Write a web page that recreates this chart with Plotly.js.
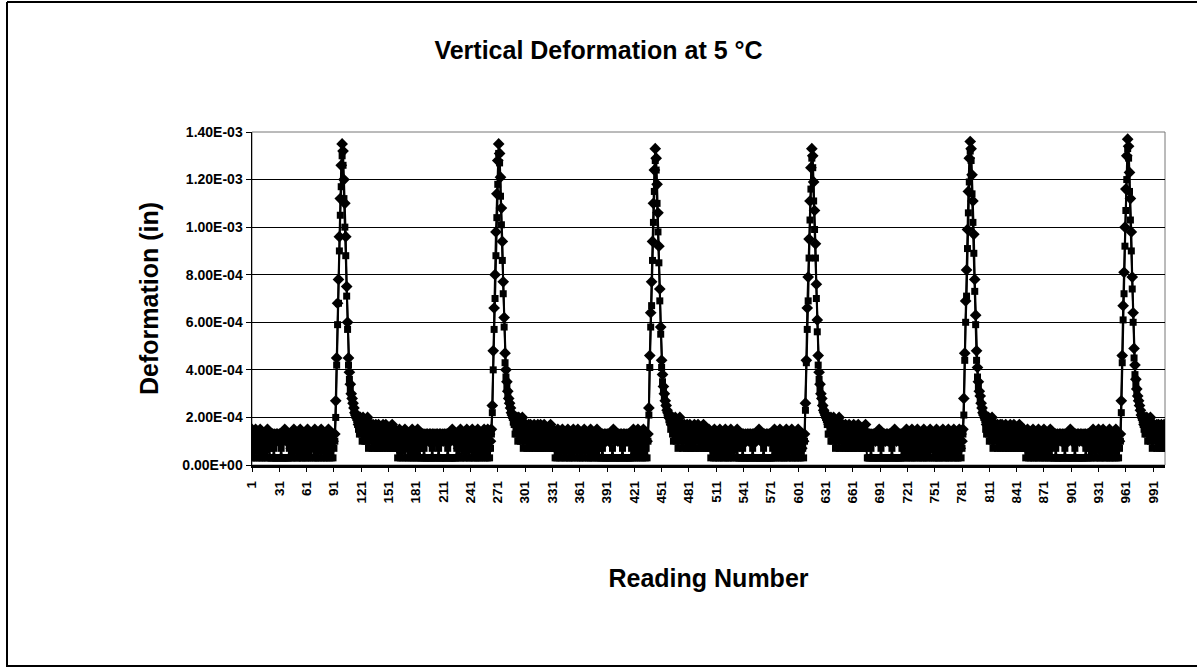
<!DOCTYPE html>
<html>
<head>
<meta charset="utf-8">
<script src="https://cdn.plot.ly/plotly-3.0.1.min.js"></script>
<style>
html,body{margin:0;padding:0;background:#fff;}
#chart{width:1197px;height:669px;}
</style>
</head>
<body>
<div id="chart"></div>
<script>
// Deformation readings, stored in units of 1e-5 in (converted to inches below).
const UNIT_IN = 1e-5;

// ---------- Series 1 (diamond markers) ----------
const preA = [
15,13,10,13,15,10,13,7,13,15,10,13,10,13,7,10,13,15,10,13,
13,10,13,13,10,13,10,13,13,10,13,13,10,13,10,13,15,13,10,13,13,
10,13,7,13,10,15,13,10,13,7,10,13,15,10,13,10,7,13,10,13,15,13,10,7,13,
10,13,10,15,13,7,10,13,10,13,15,10,13,7,13,10,13,10,15,13,10,7,13,10,13
];
const peaksA = [
[13,27,45,68,78,96,112,126,135, 132,120,110,96,75,60,45,39,34,30,28,26,24,22,21,20],
[15,25,48,66,80,98,114,128,135, 131,121,108,94,77,62,47,40,35,31,28,26,24,22,21,20],
[13,24,46,64,77,94,110,124,133, 129,118,106,92,74,58,44,38,33,30,27,25,23,22,20,20],
[13,26,44,66,79,95,111,125,133, 130,119,107,93,76,61,46,39,34,30,28,25,23,22,21,20],
[15,28,47,69,82,99,115,129,136, 133,122,111,97,78,63,48,41,35,31,29,26,24,22,21,20],
[13,27,46,67,81,100,116,130,137, 134,123,112,98,79,64,49,42,36,32,29,27,25,23,21,20]
];
const tailsA = [
[20,17,20,20,17,17,20,17,15,17,17,20,15,17,15,17,13,17,15,15,17,13,15,17,13,15,13,15,17],
[20,20,17,20,17,20,17,17,15,20,17,15,17,17,15,13,17,15,17,13,15,15,17,13,15,13,17,15,13],
[20,17,20,17,17,20,15,17,17,15,20,17,15,17,13,17,15,15,17,13,15,17,13,15,15,13,17,13,15],
[20,20,17,17,20,17,15,20,17,17,15,17,15,20,17,13,15,17,15,13,17,15,15,13,17,13,15,13,15],
[20,17,20,20,17,15,17,20,17,15,17,17,15,17,15,13,17,15,17,15,13,15,17,13,15,13,15,17,13],
[20,17,20,17,20,17,17,15,20,17,15,17,17,15,13,17,15,17,13,15,17,15,13,17,15]
];
const basesA = [
[15,13,17,13,15,13,10,15,13,17,13,10,15,13,13,
 10,13,15,10,13,7,13,10,15,13,10,13,13,7,10,13,15,10,13,10,7,13,15,10,13,
 13,10,13,13,10,13,10,13,13,10,13,13,10,13,13,10,13,10,13,13,10,13,13,10,13,10,13,13,10,13,13,10,13,10,13,15,13,10,13,13,
 10,13,7,13,15,10,13,10,13,7,10,15,13,10,13,10,13,15,7,13,10,13,10,15,13,
 10,13,7,13,10,15,13,10,13,15,10,13,10],
[17,13,15,13,17,15,13,10,13,15,13,17,13,10,15,
 13,10,13,7,15,13,10,13,10,15,13,7,13,10,13,15,10,13,7,10,13,15,13,10,13,
 10,15,13,10,7,13,13,10,15,13,10,13,7,13,10,15,13,10,13,10,7,13,15,13,10,
 13,13,10,13,10,13,13,10,13,13,10,13,10,13,13,15,13,10,13,13,10,13,10,13,13,10,13,13,10,13,10,13,13,10,13,
 10,13,15,7,13,10,13,15,10,13,7,13,10,15,13,10,13,10],
[15,17,13,13,15,10,13,17,13,15,13,10,13,15,13,
 10,13,7,13,15,10,13,10,13,7,15,13,10,13,10,13,15,7,13,10,13,10,15,13,10,13,7,13,10,15,
 13,10,13,13,10,13,13,10,13,10,13,13,10,13,13,10,13,13,10,13,10,13,13,15,13,10,13,13,10,13,10,13,13,10,13,13,10,13,
 10,13,15,7,13,10,13,10,15,13,7,10,13,13,10,15,13,7,13,10,13,15,10,13,7,13,10,13,15,10,13,10,7,13,10],
[17,13,15,13,10,17,13,15,13,13,10,15,13,17,13,
 13,10,13,13,10,13,10,13,13,10,13,13,10,15,13,10,13,13,10,13,10,13,13,10,13,13,10,13,10,13,15,13,10,13,13,10,13,10,13,13,
 10,13,7,15,13,10,13,10,13,15,7,13,10,13,10,15,13,7,10,13,13,10,15,13,10,7,13,10,13,15,10,13,7,13,10,
 13,15,10,13,7,13,10,13,15,10,13,10,7,13,15,10,13,10,13,7,15,13,10,13,10,13,15,7,13,10],
[15,13,17,13,15,13,10,13,17,15,13,10,13,15,13,
 10,13,15,7,13,10,13,10,15,13,7,13,10,13,15,10,13,10,7,13,15,13,10,13,10,7,13,15,10,13,
 13,10,13,13,10,13,10,13,13,10,13,13,10,13,10,13,13,10,13,15,13,10,13,13,10,13,10,13,13,10,13,13,10,13,10,13,13,10,13,13,
 10,13,7,13,15,10,13,10,13,7,15,13,10,13,10,15,13,7,13,10,13,10,15,13,7,10,13,13,10,15,13,10,13,10]
];

// ---------- Series 2 (square markers) ----------
const preB = [
3,7,3,10,7,3,7,10,3,7,3,10,3,7,10,3,7,3,10,7,
3,3,3,3,7,3,3,3,3,3,3,3,7,3,3,3,3,3,3,3,3,
7,3,10,3,7,3,10,7,3,3,7,10,3,7,3,3,10,7,3,7,3,10,3,7,3,
13,7,3,10,3,7,3,3,10,7,3,7,10,3,3,7,3,10,7,3,7,3,10,3,7
];
const peaksB = [
[10,20,42,59,68,90,105,117,130, 126,112,100,88,71,57,42,36,32,29,27,25,23,21,20,19],
[13,22,40,57,70,88,104,118,131, 127,113,101,86,72,58,43,37,33,29,27,25,23,21,20,18],
[10,21,41,58,67,86,102,115,128, 124,110,98,85,69,55,41,35,31,28,26,24,22,21,19,18],
[10,23,43,57,69,87,103,116,129, 125,111,99,87,70,56,42,36,32,29,26,24,23,21,20,19],
[13,21,44,60,71,91,106,119,132, 128,114,102,89,73,59,44,37,33,30,27,25,23,22,20,19],
[10,22,43,61,72,92,107,120,133, 129,115,103,90,74,60,45,38,34,30,28,26,24,22,20,19]
];
const tailsB = [
[17,15,13,17,13,10,13,15,10,13,10,13,7,10,13,10,7,13,10,7,10,13,7,10,7,10,13,7,10],
[17,13,15,13,10,13,17,10,13,10,7,13,10,13,7,10,13,7,10,10,7,13,10,7,10,13,7,10,7],
[15,17,13,10,13,15,10,13,7,13,10,10,13,7,10,13,10,7,10,13,7,10,7,13,10,7,10,7,13],
[17,13,13,15,10,13,10,15,13,7,10,13,10,7,13,10,10,7,13,10,7,10,13,7,10,7,10,13,7],
[15,13,17,13,10,13,15,10,7,13,10,13,10,7,13,10,7,10,13,10,7,10,7,13,10,7,13,10,7],
[17,15,13,17,13,10,15,13,10,13,7,13,10,13,10,7,13,10,7,10,13,7,10,13,7]
];
const basesB = [
[10,7,13,10,7,10,13,7,10,7,13,10,7,10,7,
 3,7,10,3,7,3,10,7,3,13,7,3,3,10,7,3,7,3,10,3,3,10,7,3,7,
 3,3,3,3,7,3,3,3,3,3,3,3,3,7,3,3,3,3,3,3,7,3,3,3,3,3,3,3,3,3,7,3,3,3,3,3,3,3,3,3,
 7,3,10,7,3,3,7,10,3,7,3,10,7,3,3,10,7,3,7,3,10,3,7,3,10,
 3,7,3,10,7,3,7,3,10,3,7,3,7],
[7,10,13,7,10,7,13,10,7,10,13,7,10,7,10,
 7,3,10,3,7,10,3,7,3,10,7,3,13,3,7,10,3,3,7,10,3,7,3,10,7,
 3,7,10,3,3,7,3,10,7,3,7,10,3,3,7,3,10,3,7,3,10,7,3,3,7,
 3,3,3,7,3,3,3,3,3,3,3,3,3,3,7,3,3,3,3,3,3,3,3,3,3,7,3,3,3,3,3,3,3,3,3,
 7,3,10,3,7,3,10,7,3,7,3,10,3,7,10,3,7,3],
[10,13,7,10,7,13,10,7,10,13,7,10,7,10,7,
 3,7,10,3,7,3,10,7,3,3,10,7,3,7,3,10,3,7,10,3,3,7,3,10,7,3,7,13,3,7,
 3,3,3,3,3,7,3,3,3,3,3,3,3,3,3,3,7,3,3,3,3,3,3,3,3,3,3,3,7,3,3,3,3,3,3,3,3,3,
 7,3,10,3,7,3,10,7,3,7,3,10,3,3,7,10,3,7,3,10,7,3,3,7,10,3,7,3,10,3,7,3,10,7,3],
[7,10,13,10,7,10,7,13,10,7,10,7,13,10,7,
 3,3,3,3,7,3,3,3,3,3,3,3,3,3,3,7,3,3,3,3,3,3,3,3,3,3,3,7,3,3,3,3,3,3,3,3,3,3,7,3,
 7,3,10,3,7,10,3,7,3,3,10,7,3,7,3,10,3,7,10,3,7,3,3,10,7,3,7,3,10,3,7,13,3,7,3,
 10,3,7,3,3,10,7,3,7,3,10,3,7,10,3,3,7,3,10,7,3,7,3,10,3,3,7,10,3,7],
[10,7,13,10,7,10,13,7,10,7,10,13,7,10,7,
 3,7,10,3,7,3,10,7,3,3,7,10,3,7,3,10,3,7,10,3,7,3,3,10,7,3,7,3,10,3,
 3,3,3,7,3,3,3,3,3,3,3,3,3,7,3,3,3,3,3,3,3,3,3,3,7,3,3,3,3,3,3,3,3,3,3,3,7,3,3,3,
 7,3,10,3,7,10,3,7,3,13,7,3,3,10,7,3,7,3,10,3,7,10,3,3,7,3,10,7,3,7,3,10,3,7]
];

// Axis tick labels
const xTickVals = [1,31,61,91,121,151,181,211,241,271,301,331,361,391,421,451,481,511,541,571,601,631,661,691,721,751,781,811,841,871,901,931,961,991];
const yTickVals = [0,2e-4,4e-4,6e-4,8e-4,1e-3,1.2e-3,1.4e-3];
const yTickText = ['0.00E+00','2.00E-04','4.00E-04','6.00E-04','8.00E-04','1.00E-03','1.20E-03','1.40E-03'];

function assemble(pre, peaks, tails, bases) {
  let out = pre.slice();
  for (let k = 0; k < peaks.length; k++) {
    out = out.concat(peaks[k], tails[k]);
    if (k < bases.length) out = out.concat(bases[k]);
  }
  return out;
}
const serA = assemble(preA, peaksA, tailsA, basesA).map(v => v * UNIT_IN);
const serB = assemble(preB, peaksB, tailsB, basesB).map(v => v * UNIT_IN);
const readingsA = serA.map((_, i) => i + 1);
const readingsB = serB.map((_, i) => i + 1);
const N = Math.max(serA.length, serB.length);

const FONT = 'Liberation Sans, Arial, Helvetica, sans-serif';

// plot-area geometry (pixels)
const W = 1197, H = 669, L = 252, R = 32, T = 132, B = 204;
const pw = W - L - R, ph = H - T - B;
const px = x => (x - L) / pw;
const py = y => (H - B - y) / ph;

const traces = [
  {x: readingsB, y: serB, type: 'scatter', mode: 'lines+markers', name: 'Series 2',
   line: {color: '#000', width: 2},
   marker: {symbol: 'square', size: 7, color: '#000'}},
  {x: readingsA, y: serA, type: 'scatter', mode: 'lines+markers', name: 'Series 1',
   line: {color: '#000', width: 2},
   marker: {symbol: 'diamond', size: 9, color: '#000'}}
];

const layout = {
  width: W, height: H,
  margin: {l: L, r: R, t: T, b: B, pad: 0},
  paper_bgcolor: '#fff', plot_bgcolor: '#fff',
  showlegend: false,
  font: {family: FONT, color: '#000'},
  title: {text: 'Vertical Deformation at 5 °C', font: {family: FONT, size: 25, weight: 'bold', color: '#000'},
          x: 0.5, xref: 'container', xanchor: 'center', y: 1 - 50 / H, yref: 'container', yanchor: 'middle'},
  xaxis: {range: [1, N], tickmode: 'array', tickvals: xTickVals, ticktext: xTickVals.map(String),
          tickangle: -90, tickfont: {family: FONT, size: 13.5, weight: 'bold', color: '#000'},
          showgrid: false, zeroline: false, showline: true, linecolor: '#000', linewidth: 2.5,
          ticks: 'outside', ticklen: 4, tickcolor: '#000', ticklabelstandoff: 4,
          title: {text: 'Reading Number', font: {family: FONT, size: 25, weight: 'bold', color: '#000'}, standoff: 67}},
  yaxis: {range: [0, 1.4e-3], tickmode: 'array', tickvals: yTickVals, ticktext: yTickText,
          tickfont: {family: FONT, size: 14, weight: 'bold', color: '#000'},
          showgrid: true, gridcolor: '#000', gridwidth: 1, zeroline: false,
          showline: true, linecolor: '#000', linewidth: 1.5, ticks: 'outside', ticklen: 5, tickcolor: '#000',
          title: {text: 'Deformation (in)', font: {family: FONT, size: 25, weight: 'bold', color: '#000'}, standoff: 16}},
  shapes: [
    {type: 'rect', xref: 'paper', yref: 'paper', x0: 0, x1: 1, y0: 0, y1: 1, line: {color: '#777', width: 1}, layer: 'below'},
    {type: 'line', xref: 'paper', yref: 'paper', x0: px(7), x1: px(7), y0: py(2), y1: py(667), line: {color: '#000', width: 2}},
    {type: 'line', xref: 'paper', yref: 'paper', x0: px(7), x1: px(1197), y0: py(2), y1: py(2), line: {color: '#000', width: 2}},
    {type: 'line', xref: 'paper', yref: 'paper', x0: px(7), x1: px(1197), y0: py(666), y1: py(666), line: {color: '#000', width: 2}}
  ]
};

Plotly.newPlot('chart', traces, layout, {displayModeBar: false, staticPlot: true});
</script>
</body>
</html>
